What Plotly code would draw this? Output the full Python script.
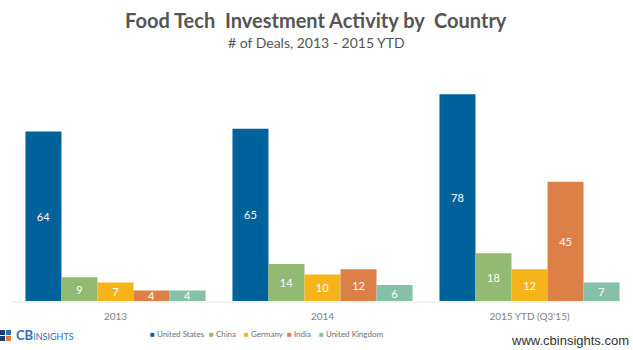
import plotly.graph_objects as go

categories = ["2013", "2014", "2015 YTD (Q3'15)"]
series_names = ["United States", "China", "Germany", "India", "United Kingdom"]
us = [64, 65, 78]
china = [9, 14, 18]
germany = [7, 10, 12]
india = [4, 12, 45]
uk = [4, 6, 7]
colors = ["#00629B", "#93BA72", "#F5B41A", "#DD8047", "#86C0A8"]

W, H = 633, 350
L, R, T, B = 12, 0, 89, 49

fig = go.Figure()
for name, vals, col in zip(series_names, [us, china, germany, india, uk], colors):
    fig.add_trace(go.Bar(
        name=name, x=categories, y=vals, marker_color=col,
        marker_line_width=0,
        text=[str(v) for v in vals], textposition="inside",
        insidetextanchor="middle", textangle=0,
        textfont=dict(color="white", size=11, family="Lato"),
        constraintext="none",
    ))

def px_x(p):
    return (p - L) / (W - L - R)

def px_y(p):
    return (H - B - p) / (H - T - B)

legend_x = [148, 207, 242, 285, 317]  # pixel positions of legend entries
legend_annots = [
    dict(text=f"<span style='color:{c}'>■</span> {n}", xref="paper", yref="paper",
         x=px_x(lx), y=px_y(334), xanchor="left", yanchor="middle", showarrow=False,
         font=dict(size=8, color="#707070", family="Lato"))
    for n, c, lx in zip(series_names, colors, legend_x)
]

fig.update_layout(
    width=W, height=H,
    margin=dict(l=L, r=R, t=T, b=B),
    paper_bgcolor="white", plot_bgcolor="white",
    barmode="group", bargap=0.13, bargroupgap=0,
    showlegend=False,
    xaxis=dict(showgrid=False, showline=False, ticks="outside", ticklen=6, tickcolor="rgba(0,0,0,0)",
               tickfont=dict(size=10, color="#808080", family="Lato")),
    yaxis=dict(range=[0, 80], showgrid=False, showticklabels=False, zeroline=False, showline=False),
    font=dict(family="Lato"),
    annotations=[
        dict(text="<b>Food Tech  Investment Activity by  Country</b>", xref="paper", yref="paper",
             x=px_x(316), y=px_y(20), xanchor="center", yanchor="middle", showarrow=False,
             font=dict(size=20, color="#555555", family="Lato")),
        dict(text="# of Deals, 2013 - 2015 YTD", xref="paper", yref="paper",
             x=px_x(316), y=px_y(42), xanchor="center", yanchor="middle", showarrow=False,
             font=dict(size=14, color="#555555", family="Lato")),
        dict(text="<b>CB</b><span style='font-size:9px'>INSIGHTS</span>", xref="paper", yref="paper",
             x=px_x(14), y=px_y(335), xanchor="left", yanchor="middle", showarrow=False,
             font=dict(size=13, color="#2A6EBB", family="Lato")),
        dict(text="www.cbinsights.com", xref="paper", yref="paper",
             x=px_x(631), y=px_y(340), xanchor="right", yanchor="middle", showarrow=False,
             font=dict(size=13, color="#333333", family="Liberation Sans")),
    ] + legend_annots,
    shapes=[
        dict(type="line", xref="paper", yref="paper", x0=0, x1=px_x(620), y0=px_y(302), y1=px_y(302),
             line=dict(color="#E6E6E6", width=1), layer="below"),
        dict(type="rect", xref="paper", yref="paper", x0=px_x(0), x1=px_x(5), y0=px_y(330), y1=px_y(335),
             fillcolor="#1F3D6B", line_width=0),
        dict(type="rect", xref="paper", yref="paper", x0=px_x(6), x1=px_x(11), y0=px_y(330), y1=px_y(335),
             fillcolor="#2A6EBB", line_width=0),
        dict(type="rect", xref="paper", yref="paper", x0=px_x(0), x1=px_x(5), y0=px_y(336), y1=px_y(341),
             fillcolor="#1F3D6B", line_width=0),
        dict(type="rect", xref="paper", yref="paper", x0=px_x(6), x1=px_x(11), y0=px_y(336), y1=px_y(341),
             fillcolor="#E07B39", line_width=0),
    ],
)

fig.write_html("out.html")
